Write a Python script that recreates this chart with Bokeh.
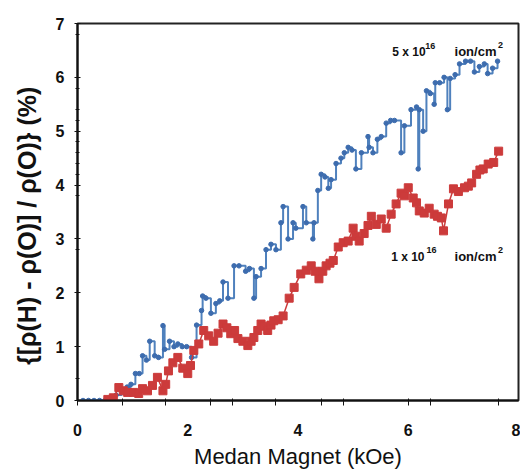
from bokeh.plotting import figure
from bokeh.models import FixedTicker, Label, Range1d
from bokeh.embed import file_html
from bokeh.resources import INLINE

# ---- data ----
blue_x = [0.10, 0.20, 0.30, 0.40, 0.50, 0.60, 0.70, 0.80, 0.90, 0.97, 1.05, 1.12, 1.18, 1.25, 1.31,
          1.40, 1.47, 1.55, 1.58, 1.67, 1.75, 1.82, 1.90, 1.98, 2.07, 2.16, 2.25, 2.27, 2.33, 2.42,
          2.51, 2.58, 2.64, 2.73, 2.84, 2.93, 3.05, 3.12, 3.20, 3.24, 3.33, 3.42, 3.51, 3.60, 3.69,
          3.73, 3.82, 3.91, 3.96, 4.09, 4.15, 4.27, 4.29, 4.36, 4.42, 4.49, 4.55, 4.60, 4.69, 4.78,
          4.84, 4.91, 4.98, 5.05, 5.15, 5.27, 5.29, 5.36, 5.44, 5.51, 5.60, 5.68, 5.75, 5.87, 5.93,
          6.05, 6.15, 6.18, 6.20, 6.27, 6.33, 6.40, 6.47, 6.49, 6.57, 6.65, 6.71, 6.76, 6.85, 6.93,
          7.04, 7.13, 7.20, 7.29, 7.38, 7.44, 7.53, 7.62]
blue_y = [0.00, 0.00, 0.00, 0.00, 0.00, 0.03, 0.10, 0.18, 0.25, 0.30, 0.50, 0.50, 0.83, 0.75, 1.10,
          0.83, 0.80, 1.39, 0.95, 1.10, 1.00, 1.05, 1.00, 1.00, 0.80, 1.40, 1.67, 1.94, 1.90, 1.62,
          1.80, 1.85, 2.20, 1.90, 2.50, 2.50, 2.40, 2.45, 1.90, 2.30, 2.45, 2.80, 2.90, 2.80, 3.30,
          3.60, 3.00, 3.30, 3.20, 3.60, 3.30, 3.00, 3.30, 3.90, 4.20, 4.15, 3.94, 4.10, 4.40, 4.50,
          4.60, 4.70, 4.65, 4.30, 4.60, 4.90, 4.70, 4.60, 4.85, 4.90, 5.15, 5.20, 5.20, 4.60, 5.10,
          5.40, 5.45, 4.30, 5.40, 5.00, 5.75, 5.70, 5.50, 5.90, 5.90, 6.00, 5.40, 5.98, 6.05, 6.25,
          6.30, 6.30, 6.10, 6.20, 6.25, 6.07, 6.17, 6.30]

red_x = [0.55, 0.65, 0.75, 0.83, 0.91, 1.02, 1.11, 1.18, 1.27, 1.36, 1.45, 1.55, 1.60, 1.65, 1.73,
         1.82, 1.91, 2.00, 2.05, 2.11, 2.20, 2.29, 2.38, 2.47, 2.55, 2.64, 2.71, 2.78, 2.85, 2.91,
         3.00, 3.09, 3.15, 3.20, 3.27, 3.33, 3.39, 3.45, 3.51, 3.56, 3.64, 3.73, 3.84, 3.93, 4.05,
         4.15, 4.24, 4.31, 4.38, 4.45, 4.51, 4.58, 4.64, 4.73, 4.82, 4.91, 5.00, 5.05, 5.11, 5.20,
         5.27, 5.33, 5.42, 5.51, 5.60, 5.69, 5.78, 5.87, 5.93, 6.00, 6.09, 6.15, 6.20, 6.29, 6.38,
         6.47, 6.53, 6.60, 6.64, 6.73, 6.82, 6.91, 7.02, 7.09, 7.15, 7.24, 7.30, 7.36, 7.45, 7.55,
         7.64]
red_y = [0.02, 0.05, 0.24, 0.18, 0.15, 0.15, 0.13, 0.22, 0.18, 0.28, 0.43, 0.18, 0.30, 0.55, 0.70,
         0.80, 0.60, 0.50, 0.65, 0.93, 1.05, 1.30, 1.20, 1.10, 1.25, 1.42, 1.35, 1.24, 1.30, 1.15,
         1.10, 1.02, 1.10, 1.17, 1.30, 1.42, 1.38, 1.30, 1.40, 1.48, 1.50, 1.57, 1.90, 2.10, 2.35,
         2.42, 2.50, 2.40, 2.26, 2.40, 2.50, 2.55, 2.60, 2.85, 2.93, 2.96, 3.20, 3.05, 2.96, 3.10,
         3.25, 3.42, 3.27, 3.37, 3.20, 3.46, 3.65, 3.85, 3.80, 3.95, 3.76, 3.67, 3.52, 3.48, 3.57,
         3.46, 3.42, 3.39, 3.15, 3.65, 3.93, 3.88, 3.95, 3.98, 4.04, 4.20, 4.28, 4.30, 4.39, 4.42,
         4.63]

x_label_ticks = [0, 2, 4, 6, 8]
x_mark_ticks = [0, 0.82, 1.6, 2.42, 2.82, 3.6, 4.42, 4.82, 6.0, 6.4, 7.64]
y_label_ticks = [0, 1, 2, 3, 4, 5, 6, 7]
y_mark_ticks = [0.4, 2.8, 3.8, 4.2, 4.4, 4.6, 4.8, 5.2, 5.4, 5.8, 6.8]

x_title = "Medan Magnet (kOe)"
y_title = "{[ρ(H) - ρ(O)] / ρ(O)} (%)"

blue_color = "#4F81BD"
blue_mark = "#3D6CAE"
red_color = "#CC3B3B"

FONT = "Liberation Sans"

p = figure(width=520, height=474, output_backend="svg", toolbar_location=None,
           x_range=Range1d(0, 8), y_range=Range1d(0, 7),
           min_border_left=77, min_border_right=2, min_border_top=23, min_border_bottom=74)
p.background_fill_color = "white"
p.border_fill_color = "white"
p.grid.visible = False
p.outline_line_color = "#222222"
p.outline_line_width = 2

# series
p.step(blue_x, blue_y, mode="after", line_color=blue_color, line_width=2)
p.scatter(blue_x, blue_y, marker="circle", size=4.5, fill_color=blue_mark, line_color=blue_mark)
p.line(red_x, red_y, line_color=red_color, line_width=1.5)
p.scatter(red_x, red_y, marker="square", size=8, fill_color=red_color, line_color=red_color)

# axes
for ax in (p.xaxis[0], p.yaxis[0]):
    ax.axis_line_color = "#111111"
    ax.axis_line_width = 2
    ax.major_tick_line_color = "#111111"
    ax.minor_tick_line_color = "#111111"
    ax.major_label_text_font = FONT
    ax.major_label_text_font_style = "bold"
    ax.major_label_text_font_size = "16px"
    ax.major_label_text_color = "#111111"
    ax.axis_label_text_font = FONT
    ax.axis_label_text_color = "#111111"

p.xaxis.ticker = FixedTicker(ticks=x_label_ticks, minor_ticks=x_mark_ticks)
p.xaxis.major_tick_out = 0
p.xaxis.major_tick_in = 0
p.xaxis.minor_tick_out = 5
p.xaxis.minor_tick_in = 2
p.xaxis.major_label_standoff = 18
p.xaxis.axis_label = x_title
p.xaxis.axis_label_text_font_size = "22px"
p.xaxis.axis_label_text_font_style = "normal"
p.xaxis.axis_label_standoff = 5

p.yaxis.ticker = FixedTicker(ticks=y_label_ticks, minor_ticks=y_mark_ticks)
p.yaxis.major_tick_out = 3
p.yaxis.major_tick_in = 3
p.yaxis.minor_tick_out = 2
p.yaxis.minor_tick_in = 2
p.yaxis.major_label_standoff = 10
# trailing no-break spaces nudge the centred title slightly downwards, as in the original
p.yaxis.axis_label = y_title + "\u00a0\u00a0\u00a0\u00a0"
p.yaxis.axis_label_text_font_size = "25px"
p.yaxis.axis_label_text_font_style = "bold"
p.yaxis.axis_label_standoff = 12

# annotations
def add_text(x, y, txt, size):
    p.add_layout(Label(x=x, y=y, text=txt, text_font=FONT, text_font_style="bold",
                       text_font_size=size, text_color="#111111", text_baseline="alphabetic"))

add_text(5.71, 6.48, "5 x 10", "12px")
add_text(6.31, 6.59, "16", "9px")
add_text(6.84, 6.48, "ion/cm", "13px")
add_text(7.63, 6.61, "2", "9px")

add_text(5.69, 2.67, "1 x 10", "12px")
add_text(6.33, 2.80, "16", "9px")
add_text(6.84, 2.67, "ion/cm", "13px")
add_text(7.63, 2.80, "2", "9px")

open("out.html", "w").write(file_html(p, INLINE))
